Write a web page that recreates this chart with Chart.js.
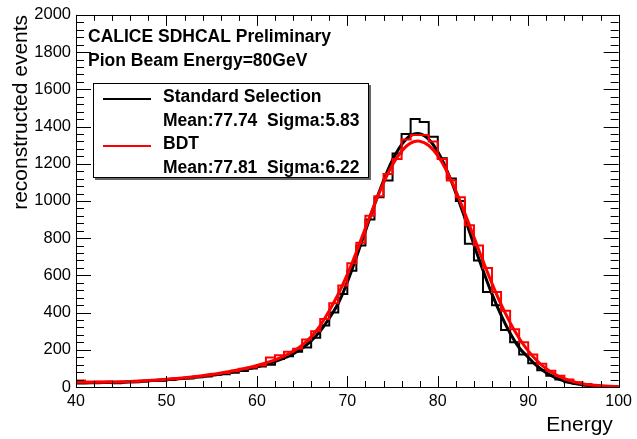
<!DOCTYPE html>
<html>
<head>
<meta charset="utf-8">
<script src="https://cdn.jsdelivr.net/npm/chart.js@4.4.0/dist/chart.umd.min.js"></script>
<style>
  html, body { margin: 0; padding: 0; background: #fff; }
  #wrap { width: 637px; height: 439px; }
</style>
</head>
<body>
<div id="wrap"><canvas id="energyChart" width="637" height="439"></canvas></div>
<script>
/* Reconstructed energy, 80 GeV pions: standard selection vs BDT
   histograms (1 GeV bins) with their fitted curves, ROOT-style frame */

// low edge of each 1 GeV bin
const binLow = [
  40, 41, 42, 43, 44, 45, 46, 47, 48, 49,
  50, 51, 52, 53, 54, 55, 56, 57, 58, 59,
  60, 61, 62, 63, 64, 65, 66, 67, 68, 69,
  70, 71, 72, 73, 74, 75, 76, 77, 78, 79,
  80, 81, 82, 83, 84, 85, 86, 87, 88, 89,
  90, 91, 92, 93, 94, 95, 96, 97, 98, 99,
];
const binHigh = 100;

const stdHist = [
  30, 22, 25, 22, 20, 26, 25, 30, 35, 33,
  38, 44, 46, 52, 56, 64, 68, 76, 86, 100,
  110, 120, 150, 165, 190, 212, 265, 330, 400, 500,
  625, 760, 900, 1020, 1110, 1255, 1360, 1440, 1425, 1345,
  1230, 1120, 1000, 770, 680, 510, 440, 306, 240, 175,
  128, 90, 60, 40, 26, 16, 10, 6, 3, 2,
];
const bdtHist = [
  35, 28, 30, 30, 25, 27, 28, 33, 36, 38,
  42, 47, 50, 56, 62, 68, 75, 85, 98, 105,
  115, 158, 170, 190, 205, 255, 300, 365, 450, 545,
  665, 775, 920, 1025, 1145, 1225, 1330, 1355, 1355, 1320,
  1225, 1110, 1020, 870, 760, 640, 510, 410, 310, 240,
  175, 125, 88, 60, 40, 26, 16, 10, 6, 4,
];

// fitted curves, read every 1 GeV
const fitE = [
  40, 41, 42, 43, 44, 45, 46, 47, 48, 49,
  50, 51, 52, 53, 54, 55, 56, 57, 58, 59,
  60, 61, 62, 63, 64, 65, 66, 67, 68, 69,
  70, 71, 72, 73, 74, 75, 76, 77, 78, 79,
  80, 81, 82, 83, 84, 85, 86, 87, 88, 89,
  90, 91, 92, 93, 94, 95, 96, 97, 98, 99, 100,
];
const stdFit = [
  22, 22, 23, 24, 25, 26, 28, 30, 33, 36,
  39, 43, 47, 52, 57, 63, 70, 78, 87, 97,
  108, 122, 137, 155, 178, 208, 248, 300, 370, 450,
  564, 698, 839, 979, 1108, 1220, 1303, 1351, 1361, 1331,
  1264, 1165, 1043, 907, 765, 628, 499, 386, 289, 211,
  160, 112, 76, 50, 32, 20, 12, 7, 4, 2, 1,
];
const bdtFit = [
  25, 25, 25, 26, 27, 28, 30, 32, 35, 38,
  42, 46, 50, 55, 61, 68, 75, 84, 93, 104,
  116, 130, 146, 166, 192, 225, 270, 330, 410, 500,
  605, 726, 854, 981, 1096, 1194, 1267, 1311, 1321, 1298,
  1243, 1159, 1054, 933, 806, 678, 556, 444, 346, 262,
  194, 140, 98, 67, 45, 29, 18, 11, 7, 4, 2,
];

const headerLines = ['CALICE SDHCAL Preliminary', 'Pion Beam Energy=80GeV'];
const legendRows = [
  { label: 'Standard Selection', stats: 'Mean:77.74  Sigma:5.83', color: '#000000' },
  { label: 'BDT', stats: 'Mean:77.81  Sigma:6.22', color: '#ff0000' },
];

const FONT = '"Liberation Sans", Arial, Helvetica, sans-serif';

// histogram outline: one point per bin low edge, plus the closing edge
function stepPoints(values) {
  const pts = binLow.map((x, i) => ({ x, y: values[i] }));
  pts.push({ x: binHigh, y: values[values.length - 1] });
  return pts;
}
function curvePoints(values) {
  return fitE.map((x, i) => ({ x, y: values[i] }));
}

// frame + inward ticks on all four sides, like a ROOT pad
const rootFrame = {
  id: 'rootFrame',
  afterDatasetsDraw(chart) {
    const { ctx, chartArea: a, scales: { x, y } } = chart;
    ctx.save();
    ctx.strokeStyle = '#000';
    ctx.lineWidth = 1;
    const seg = (x1, y1, x2, y2) => { ctx.beginPath(); ctx.moveTo(x1, y1); ctx.lineTo(x2, y2); ctx.stroke(); };

    for (let v = x.min; v <= x.max + 1e-6; v += 2) {
      const px = Math.round(x.getPixelForValue(v)) + 0.5;
      const len = v % 10 === 0 ? 11 : 6;
      seg(px, a.bottom, px, a.bottom - len);
      seg(px, a.top, px, a.top + len);
    }
    for (let v = y.min; v <= y.max + 1e-6; v += 40) {
      const py = Math.round(y.getPixelForValue(v)) + 0.5;
      const len = v % 200 === 0 ? 15 : 8;
      seg(a.left, py, a.left + len, py);
      seg(a.right, py, a.right - len, py);
    }
    ctx.strokeRect(Math.round(a.left) + 0.5, Math.round(a.top) + 0.5,
      Math.round(a.right - a.left), Math.round(a.bottom - a.top));
    ctx.restore();
  },
};

// header text and the legend box
const annotations = {
  id: 'annotations',
  afterDraw(chart) {
    const ctx = chart.ctx;
    ctx.save();
    ctx.fillStyle = '#000';
    ctx.textBaseline = 'middle';
    ctx.font = 'bold 17.5px ' + FONT;
    ctx.fillText(headerLines[0], 88, 37);
    ctx.fillText(headerLines[1], 88, 61);

    const box = { left: 93, top: 83, right: 369, bottom: 178 };
    ctx.fillStyle = '#666';
    ctx.fillRect(box.left + 2, box.top + 2, box.right - box.left, box.bottom - box.top);
    ctx.fillStyle = '#fff';
    ctx.fillRect(box.left, box.top, box.right - box.left, box.bottom - box.top);
    ctx.strokeStyle = '#000';
    ctx.lineWidth = 1;
    ctx.strokeRect(box.left + 0.5, box.top + 0.5, box.right - box.left - 1, box.bottom - box.top - 1);

    legendRows.forEach((row, i) => {
      const yRow = 97 + i * 47;
      ctx.strokeStyle = row.color;
      ctx.lineWidth = 2;
      ctx.beginPath();
      ctx.moveTo(103, yRow + 2);
      ctx.lineTo(151, yRow + 2);
      ctx.stroke();
      ctx.fillStyle = '#000';
      ctx.fillText(row.label, 163, yRow);
      ctx.fillText(row.stats, 163, yRow + 24);
    });
    ctx.restore();
  },
};

new Chart(document.getElementById('energyChart'), {
  type: 'line',
  data: {
    datasets: [
      {
        label: 'BDT fit',
        data: curvePoints(bdtFit),
        borderColor: '#ff0000',
        borderWidth: 3,
        pointRadius: 0,
        tension: 0.4,
        order: 0,
      },
      {
        label: 'BDT',
        data: stepPoints(bdtHist),
        borderColor: '#ff0000',
        borderWidth: 2,
        pointRadius: 0,
        stepped: true,
        order: 1,
      },
      {
        label: 'Standard Selection fit',
        data: curvePoints(stdFit),
        borderColor: '#000000',
        borderWidth: 3,
        pointRadius: 0,
        tension: 0.4,
        order: 2,
      },
      {
        label: 'Standard Selection',
        data: stepPoints(stdHist),
        borderColor: '#000000',
        borderWidth: 2,
        pointRadius: 0,
        stepped: true,
        order: 3,
      },
    ],
  },
  options: {
    responsive: false,
    animation: false,
    events: [],
    layout: { padding: { top: 14, right: 17, left: 0, bottom: 0 } },
    plugins: { legend: { display: false }, tooltip: { enabled: false } },
    scales: {
      x: {
        type: 'linear',
        min: 40,
        max: 100,
        grid: { display: false, drawTicks: false },
        border: { display: false },
        ticks: { stepSize: 10, color: '#000', padding: 5, maxRotation: 0, autoSkip: false,
          font: { family: FONT, size: 16 }, callback: (v) => String(v) },
        title: { display: true, text: 'Energy\u00a0', align: 'end', color: '#000', font: { family: FONT, size: 21 }, padding: { top: 0, bottom: 1 } },
        afterFit: (s) => { s.height = 52; },
      },
      y: {
        type: 'linear',
        min: 0,
        max: 2000,
        grid: { display: false, drawTicks: false },
        border: { display: false },
        ticks: { stepSize: 200, color: '#000', padding: 5, font: { family: FONT, size: 16.5 }, callback: (v) => String(v) },
        title: { display: true, text: 'reconstructed events', align: 'end', color: '#000', font: { family: FONT, size: 21 }, padding: { top: 9, bottom: 0 } },
        afterFit: (s) => { s.width = 76; },
      },
    },
  },
  plugins: [rootFrame, annotations],
});
</script>
</body>
</html>
